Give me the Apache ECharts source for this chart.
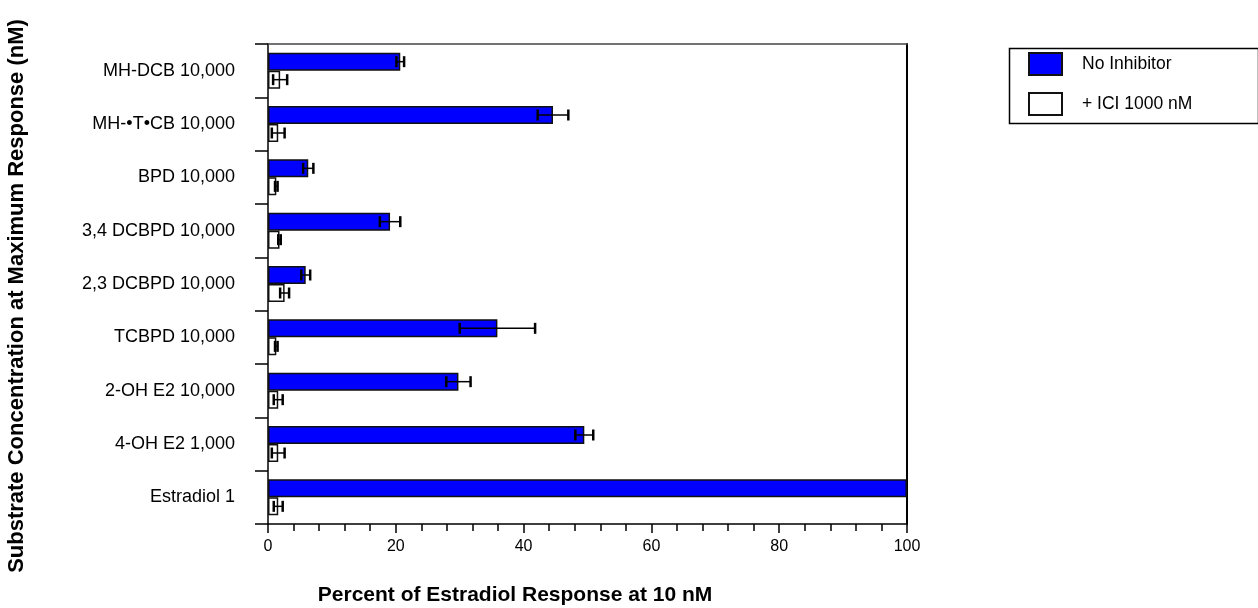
<!DOCTYPE html>
<html>
<head>
<meta charset="utf-8">
<title>Percent of Estradiol Response at 10 nM</title>
<script src="https://cdn.jsdelivr.net/npm/echarts@6/dist/echarts.min.js"></script>
<style>
  html, body { margin: 0; padding: 0; background: #fff; }
  #chart { width: 1258px; height: 608px; }
</style>
</head>
<body>
<div id="chart"></div>
<script>
// Substrates (top to bottom) with concentration in nM
const categories = [
  'MH-DCB 10,000',
  'MH-\u2022T\u2022CB 10,000',
  'BPD 10,000',
  '3,4 DCBPD 10,000',
  '2,3 DCBPD 10,000',
  'TCBPD 10,000',
  '2-OH E2 10,000',
  '4-OH E2 1,000',
  'Estradiol 1'
];

// Percent of estradiol (10 nM) response, mean and error
const noInhibitor    = [20.7, 44.6, 6.3, 19.1, 5.9, 35.9, 29.8, 49.5, 100];
const noInhibitorErr = [0.6, 2.4, 0.8, 1.6, 0.7, 5.9, 1.9, 1.4, 0];
const withICI        = [1.9, 1.6, 1.3, 1.8, 2.6, 1.3, 1.6, 1.6, 1.6];
const withICIErr     = [1.1, 1.0, 0.2, 0.2, 0.7, 0.2, 0.7, 1.0, 0.7];

const xTicks = [0, 20, 40, 60, 80, 100];

const FONT = '"Liberation Sans", Arial, Helvetica, sans-serif';
const BAR_W = 18;

function errorRows(values, errs) {
  return values.map((v, i) => [i, v, errs[i]]);
}

// Horizontal whisker with end caps, shifted onto its own bar within the band
function makeErrorRenderer(offset) {
  return function (params, api) {
    const idx = api.value(0);
    const v = api.value(1);
    const e = api.value(2);
    if (!e) return null;
    const lo = api.coord([v - e, idx]);
    const hi = api.coord([v + e, idx]);
    const y = lo[1] + offset;
    const h = 5.5;
    const style = { stroke: '#000', lineWidth: 1.5 };
    const capStyle = { stroke: '#000', lineWidth: 2.5 };
    return {
      type: 'group',
      children: [
        { type: 'line', shape: { x1: lo[0], y1: y, x2: hi[0], y2: y }, style: style },
        { type: 'line', shape: { x1: lo[0], y1: y - h, x2: lo[0], y2: y + h }, style: capStyle },
        { type: 'line', shape: { x1: hi[0], y1: y - h, x2: hi[0], y2: y + h }, style: capStyle }
      ]
    };
  };
}

const chart = echarts.init(document.getElementById('chart'), null, { renderer: 'canvas' });

chart.setOption({
  backgroundColor: '#ffffff',
  animation: false,
  textStyle: { fontFamily: FONT, color: '#000' },
  grid: { left: 268, right: 351, top: 44, bottom: 84, containLabel: false },
  legend: {
    orient: 'vertical',
    left: 1028,
    top: 52,
    padding: 0,
    itemWidth: 33,
    itemHeight: 22,
    itemGap: 16,
    icon: 'rect',
    selectedMode: false,
    textStyle: { fontFamily: FONT, fontSize: 17.5, color: '#000', padding: [0, 0, 0, 15] },
    data: ['No Inhibitor', '+ ICI 1000 nM']
  },
  xAxis: [
    {
      type: 'value',
      position: 'bottom',
      min: 0,
      max: 100,
      interval: 20,
      axisLine: { show: true, onZero: false, lineStyle: { color: '#000', width: 1.5 } },
      axisTick: { show: true, length: 9, lineStyle: { color: '#000', width: 1.5 } },
      minorTick: { show: true, splitNumber: 5, length: 7, lineStyle: { color: '#000', width: 1.5 } },
      splitLine: { show: false },
      minorSplitLine: { show: false },
      axisLabel: {
        margin: 15,
        fontSize: 16,
        color: '#000',
        fontFamily: FONT,
        formatter: (v) => (xTicks.indexOf(v) >= 0 ? String(v) : '')
      }
    },
    {
      type: 'value',
      position: 'top',
      min: 0,
      max: 100,
      axisLine: { show: true, onZero: false, lineStyle: { color: '#444', width: 1.5 } },
      axisTick: { show: false },
      axisLabel: { show: false },
      splitLine: { show: false }
    }
  ],
  yAxis: [
    {
      type: 'category',
      inverse: true,
      data: categories,
      position: 'left',
      axisLine: { show: true, onZero: false, lineStyle: { color: '#000', width: 1.5 } },
      axisTick: { show: true, length: 13, lineStyle: { color: '#000', width: 1.5 } },
      axisLabel: { margin: 33, fontSize: 18, color: '#000', fontFamily: FONT }
    },
    {
      type: 'category',
      inverse: true,
      data: categories,
      position: 'right',
      axisLine: { show: true, onZero: false, lineStyle: { color: '#000', width: 2 } },
      axisTick: { show: false },
      axisLabel: { show: false }
    }
  ],
  series: [
    {
      name: 'No Inhibitor',
      type: 'bar',
      data: noInhibitor,
      barWidth: BAR_W,
      barGap: '0%',
      itemStyle: { color: '#0000ff', borderColor: '#111', borderWidth: 1.5 },
      z: 2
    },
    {
      name: '+ ICI 1000 nM',
      type: 'bar',
      data: withICI,
      barWidth: BAR_W,
      barGap: '0%',
      itemStyle: { color: '#ffffff', borderColor: '#111', borderWidth: 1.5 },
      z: 2
    },
    {
      name: 'No Inhibitor error',
      type: 'custom',
      data: errorRows(noInhibitor, noInhibitorErr),
      encode: { x: 1, y: 0 },
      renderItem: makeErrorRenderer(-BAR_W / 2),
      z: 5,
      silent: true
    },
    {
      name: '+ ICI 1000 nM error',
      type: 'custom',
      data: errorRows(withICI, withICIErr),
      encode: { x: 1, y: 0 },
      renderItem: makeErrorRenderer(BAR_W / 2),
      z: 5,
      silent: true
    }
  ],
  graphic: [
    {
      type: 'rect',
      left: 1007,
      top: 46,
      shape: { width: 249, height: 75 },
      style: { fill: 'none', stroke: '#000', lineWidth: 1.5 },
      silent: true
    },
    {
      type: 'text',
      x: 515,
      y: 595,
      style: {
        text: 'Percent of Estradiol Response at 10 nM',
        font: 'bold 21px ' + FONT,
        fill: '#000',
        align: 'center',
        verticalAlign: 'middle'
      }
    },
    {
      type: 'text',
      x: 17,
      y: 296,
      rotation: Math.PI / 2,
      style: {
        text: 'Substrate Concentration at Maximum Response (nM)',
        font: 'bold 22px ' + FONT,
        fill: '#000',
        align: 'center',
        verticalAlign: 'middle'
      }
    }
  ]
});
</script>
</body>
</html>
